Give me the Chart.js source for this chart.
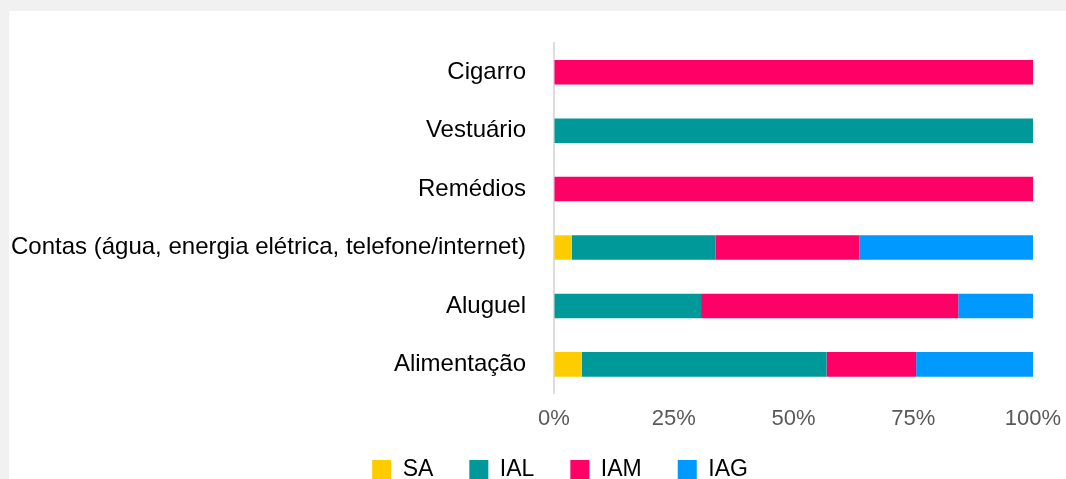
<!DOCTYPE html>
<html>
<head>
<meta charset="utf-8">
<script src="https://cdn.jsdelivr.net/npm/chart.js@4/dist/chart.umd.min.js"></script>
<style>
  html, body { margin: 0; padding: 0; background: #f1f1f1; overflow: hidden; width: 1066px; height: 479px; }
  #wrap { position: absolute; left: 9px; top: 11px; width: 1057px; height: 490px; background: #ffffff; }
  canvas { display: block; }
</style>
</head>
<body>
<div id="wrap"><canvas id="c" width="1057" height="490"></canvas></div>
<script>
const categories = [
  'Cigarro',
  'Vestuário',
  'Remédios',
  'Contas (água, energia elétrica, telefone/internet)',
  'Aluguel',
  'Alimentação'
];
const seriesNames = ['SA', 'IAL', 'IAM', 'IAG'];
const seriesColors = ['#FFCC00', '#009999', '#FF0066', '#0099FF'];
const SA  = [0,   0,   0,   3.7,  0,    5.8];
const IAL = [0,   100, 0,   30.0, 30.7, 51.1];
const IAM = [100, 0,   100, 30.1, 53.7, 18.7];
const IAG = [0,   0,   0,   36.2, 15.6, 24.4];
const xTicks = [0, 25, 50, 75, 100];

const FONT = "'Liberation Sans', Arial, Helvetica, sans-serif";
const seriesValues = [SA, IAL, IAM, IAG];
const LEGEND_PAD = 36;

const legendShift = {
  id: 'legendShift',
  afterLayout(chart) {
    const lg = chart.legend;
    if (!lg) return;
    const dx = 39;
    const dy = 449 - (lg.top + LEGEND_PAD + 2);
    lg.left += dx; lg.right += dx;
    lg.top += dy; lg.bottom += dy;
  }
};

new Chart(document.getElementById('c'), {
  type: 'bar',
  data: {
    labels: categories,
    datasets: seriesNames.map((n, i) => ({
      label: n,
      data: seriesValues[i],
      backgroundColor: seriesColors[i],
      borderWidth: 0,
      barPercentage: 0.42,
      categoryPercentage: 1.0
    }))
  },
  options: {
    indexAxis: 'y',
    responsive: false,
    animation: false,
    devicePixelRatio: 1,
    layout: { padding: { top: 32, right: 33, left: 0, bottom: 0 } },
    scales: {
      x: {
        stacked: true,
        min: 0,
        max: 100,
        afterBuildTicks(scale) { scale.ticks = xTicks.map(v => ({ value: v })); },
        grid: { display: true, drawOnChartArea: false, drawTicks: true, tickLength: 12, color: 'rgba(0,0,0,0)' },
        border: { display: false },
        ticks: {
          padding: 0,
          color: '#595959',
          font: { family: FONT, size: 22 },
          callback: v => v + '%'
        }
      },
      y: {
        stacked: true,
        afterFit(scale) { scale.width = 545; },
        grid: { display: true, drawOnChartArea: false, drawTicks: true, tickLength: 28, color: 'rgba(0,0,0,0)' },
        border: { display: true, color: '#dddddd', width: 2 },
        ticks: {
          padding: 0,
          color: '#000000',
          font: { family: FONT, size: 24 },
          autoSkip: false
        }
      }
    },
    plugins: {
      tooltip: { enabled: false },
      legend: {
        position: 'bottom',
        labels: {
          boxWidth: 19,
          boxHeight: 19,
          padding: LEGEND_PAD,
          color: '#000000',
          font: { family: FONT, size: 23 }
        }
      }
    }
  },
  plugins: [legendShift]
});
</script>
</body>
</html>
